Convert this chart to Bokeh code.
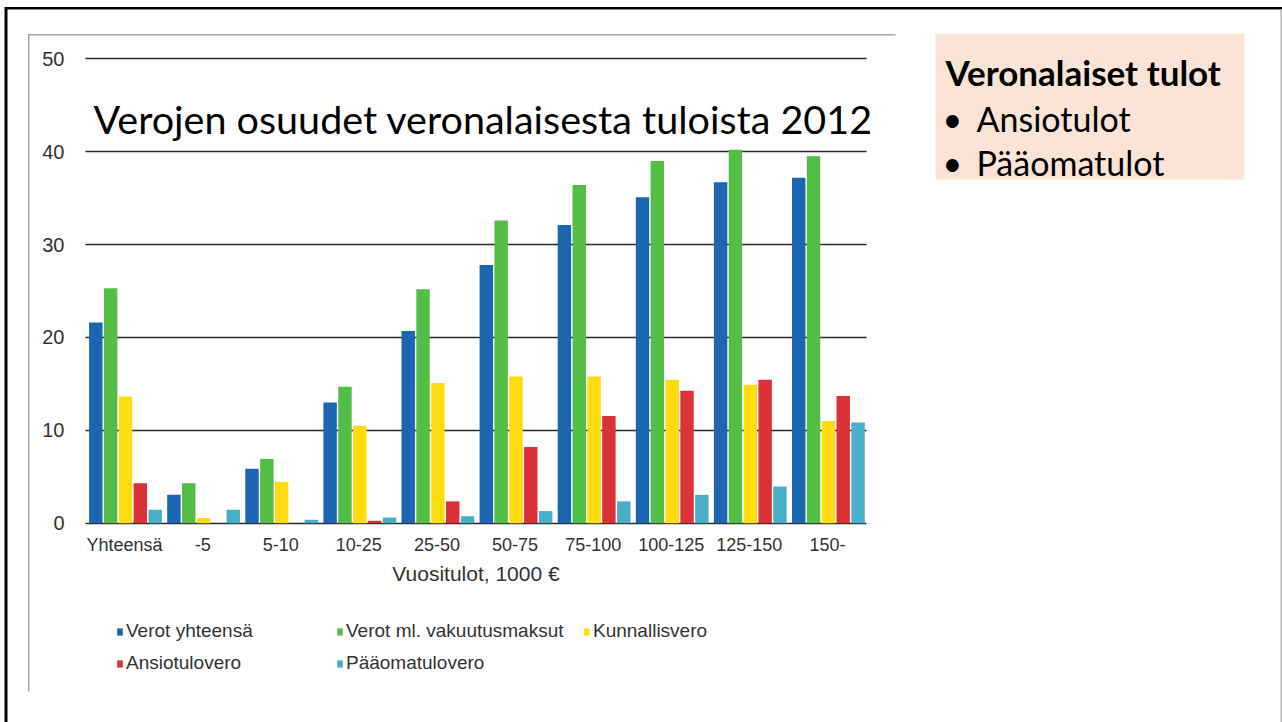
from bokeh.plotting import figure
from bokeh.models import (Range1d, FixedTicker, Label, BoxAnnotation, Grid,
                          Legend, LegendItem, ColumnDataSource)
from bokeh.transform import dodge
from bokeh.embed import file_html
from bokeh.resources import INLINE

# ---------------- data ----------------
categories = ["Yhteensä", "-5", "5-10", "10-25", "25-50", "50-75", "75-100",
              "100-125", "125-150", "150-"]
verot_yhteensa = [21.6, 3.05, 5.85, 13.0, 20.7, 27.8, 32.1, 35.1, 36.7, 37.2]
verot_ml_vakuutusmaksut = [25.3, 4.3, 6.9, 14.7, 25.2, 32.6, 36.4, 39.0, 40.2, 39.5]
kunnallisvero = [13.65, 0.55, 4.45, 10.5, 15.1, 15.8, 15.8, 15.45, 14.9, 11.0]
ansiotulovero = [4.3, 0.0, 0.0, 0.26, 2.35, 8.2, 11.55, 14.25, 15.45, 13.7]
paaomatulovero = [1.45, 1.45, 0.37, 0.6, 0.75, 1.3, 2.35, 3.05, 3.95, 10.85]
series_names = ["Verot yhteensä", "Verot ml. vakuutusmaksut", "Kunnallisvero",
                "Ansiotulovero", "Pääomatulovero"]
series_colors = ["#1a66b0", "#52be45", "#ffdc10", "#dc3237", "#4aaec7"]
y_ticks = [0, 10, 20, 30, 40, 50]
x_title = "Vuositulot, 1000 €"
chart_title = "Verojen osuudet veronalaisesta tuloista 2012"
box_title = "Veronalaiset tulot"
box_items = ["Ansiotulot", "Pääomatulot"]

source = ColumnDataSource(dict(
    idx=list(range(len(categories))),
    s0=verot_yhteensa,
    s1=verot_ml_vakuutusmaksut,
    s2=kunnallisvero,
    s3=ansiotulovero,
    s4=paaomatulovero,
))

# ---------------- layout (pixels) ----------------
W, H = 1282, 722
PLOT_L, PLOT_R = 85.0, 866.0       # screen x of category axis ends
Y0_PX, Y50_PX = 522.7, 58.3         # screen y of 0 and 50
n = len(categories)
xs = (PLOT_R - PLOT_L) / n
x_start = -0.5 - PLOT_L / xs
x_end = -0.5 + (W - PLOT_L) / xs
ys = (Y0_PX - Y50_PX) / 50.0
y_start = -(H - Y0_PX) / ys
y_end = Y0_PX / ys

CHART_FONT = "Liberation Sans"
SLIDE_FONT = "Lato"

p = figure(width=W, height=H, output_backend="svg", toolbar_location=None,
           x_range=Range1d(x_start, x_end), y_range=Range1d(y_start, y_end),
           min_border=0)
p.title.visible = False
p.outline_line_color = None
p.background_fill_color = "white"
p.border_fill_color = "white"

# ---------------- grid ----------------
p.xgrid.grid_line_color = None
p.ygrid.ticker = FixedTicker(ticks=y_ticks)
if "cross_bounds" in Grid.properties():
    p.ygrid.cross_bounds = (-0.5, n - 0.5)
    p.ygrid.grid_line_color = "#2a2a2a"
    p.ygrid.grid_line_width = 1.5
else:
    p.ygrid.grid_line_color = None
    p.segment(x0=-0.5, x1=n - 0.5, y0=y_ticks, y1=y_ticks,
              line_color="#2a2a2a", line_width=1.5, level="underlay")

# ---------------- bars ----------------
pitch = 0.19
offsets = [-2 * pitch, -pitch, 0.0, pitch, 2 * pitch]
renderers = []
for i, (name, col) in enumerate(zip(series_names, series_colors)):
    r = p.vbar(x=dodge("idx", offsets[i] + 0.012), top="s%d" % i,
               bottom=0, width=0.172, source=source, fill_color=col,
               line_color=None)
    renderers.append(r)

# ---------------- axes ----------------
xa = p.xaxis[0]
xa.fixed_location = 0
xa.bounds = (-0.5, n - 0.5)
xa.ticker = FixedTicker(ticks=list(range(n)))
xa.major_label_overrides = {i: c for i, c in enumerate(categories)}
xa.axis_line_color = None
xa.major_tick_line_color = None
xa.minor_tick_line_color = None
xa.major_label_text_font = CHART_FONT
xa.major_label_text_font_size = "18px"
xa.major_label_text_color = "#333333"
xa.major_label_standoff = 6
xa.axis_label = x_title
xa.axis_label_text_font = CHART_FONT
xa.axis_label_text_font_size = "21px"
xa.axis_label_text_font_style = "normal"
xa.axis_label_text_color = "#333333"
xa.axis_label_standoff = 3

ya = p.yaxis[0]
ya.fixed_location = -0.5
ya.bounds = (0, 50)
ya.ticker = FixedTicker(ticks=y_ticks)
ya.axis_line_color = None
ya.major_tick_line_color = None
ya.minor_tick_line_color = None
ya.major_label_text_font = CHART_FONT
ya.major_label_text_font_size = "20px"
ya.major_label_text_color = "#333333"
ya.major_label_standoff = 15

# ---------------- legends (three columns) ----------------
common = dict(orientation="vertical", padding=0, margin=0, spacing=10,
              glyph_width=7, glyph_height=9, label_standoff=3, label_height=22,
              label_text_font=CHART_FONT, label_text_font_size="19px",
              label_text_color="#333333", border_line_color=None,
              background_fill_alpha=0)
leg1 = Legend(items=[LegendItem(label=series_names[0], renderers=[renderers[0]]),
                     LegendItem(label=series_names[3], renderers=[renderers[3]])],
              location=(116, H - 674), **common)
leg2 = Legend(items=[LegendItem(label=series_names[1], renderers=[renderers[1]]),
                     LegendItem(label=series_names[4], renderers=[renderers[4]])],
              location=(336, H - 674), **common)
leg3 = Legend(items=[LegendItem(label=series_names[2], renderers=[renderers[2]])],
              location=(583, H - 642), **common)
for lg in (leg1, leg2, leg3):
    p.add_layout(lg, "center")


# ---------------- slide decorations (screen px, y measured from top) ----------------
def sbox(l, r, t, b, color, level="annotation"):
    return BoxAnnotation(left=l, right=r, top=H - t, bottom=H - b,
                         left_units="screen", right_units="screen",
                         top_units="screen", bottom_units="screen",
                         fill_color=color, fill_alpha=1, line_color=None,
                         level=level)


p.add_layout(sbox(4.5, W, 6.5, 9, "#000000"))          # slide border top
p.add_layout(sbox(4, 7, 6.5, H, "#000000"))             # slide border left
p.add_layout(sbox(W - 2, W, 9, H, "#b4b4b4"))           # slide border right
p.add_layout(sbox(27.5, 895, 33.5, 35, "#a6a6a6"))      # chart image top edge
p.add_layout(sbox(27.5, 29, 33.5, 691, "#a6a6a6"))      # chart image left edge
p.add_layout(sbox(935, 1244, 33, 179, "#fbe4d6", level="underlay"))  # text box


def slabel(x, y_top, text, size, bold=False):
    return Label(x=x, y=H - y_top, x_units="screen", y_units="screen", text=text,
                 text_font=SLIDE_FONT, text_font_size=size,
                 text_font_style="bold" if bold else "normal",
                 text_color="black", text_baseline="alphabetic")


p.add_layout(slabel(93, 118, chart_title, "39.5px"))
p.add_layout(slabel(945, 71.7, box_title, "35px", bold=True))
for txt, yb in zip(box_items, [118.3, 161.7]):
    p.add_layout(slabel(942, yb, "•", "34px"))
    p.add_layout(slabel(976, yb, txt, "34px"))

open("out.html", "w").write(file_html(p, INLINE))
